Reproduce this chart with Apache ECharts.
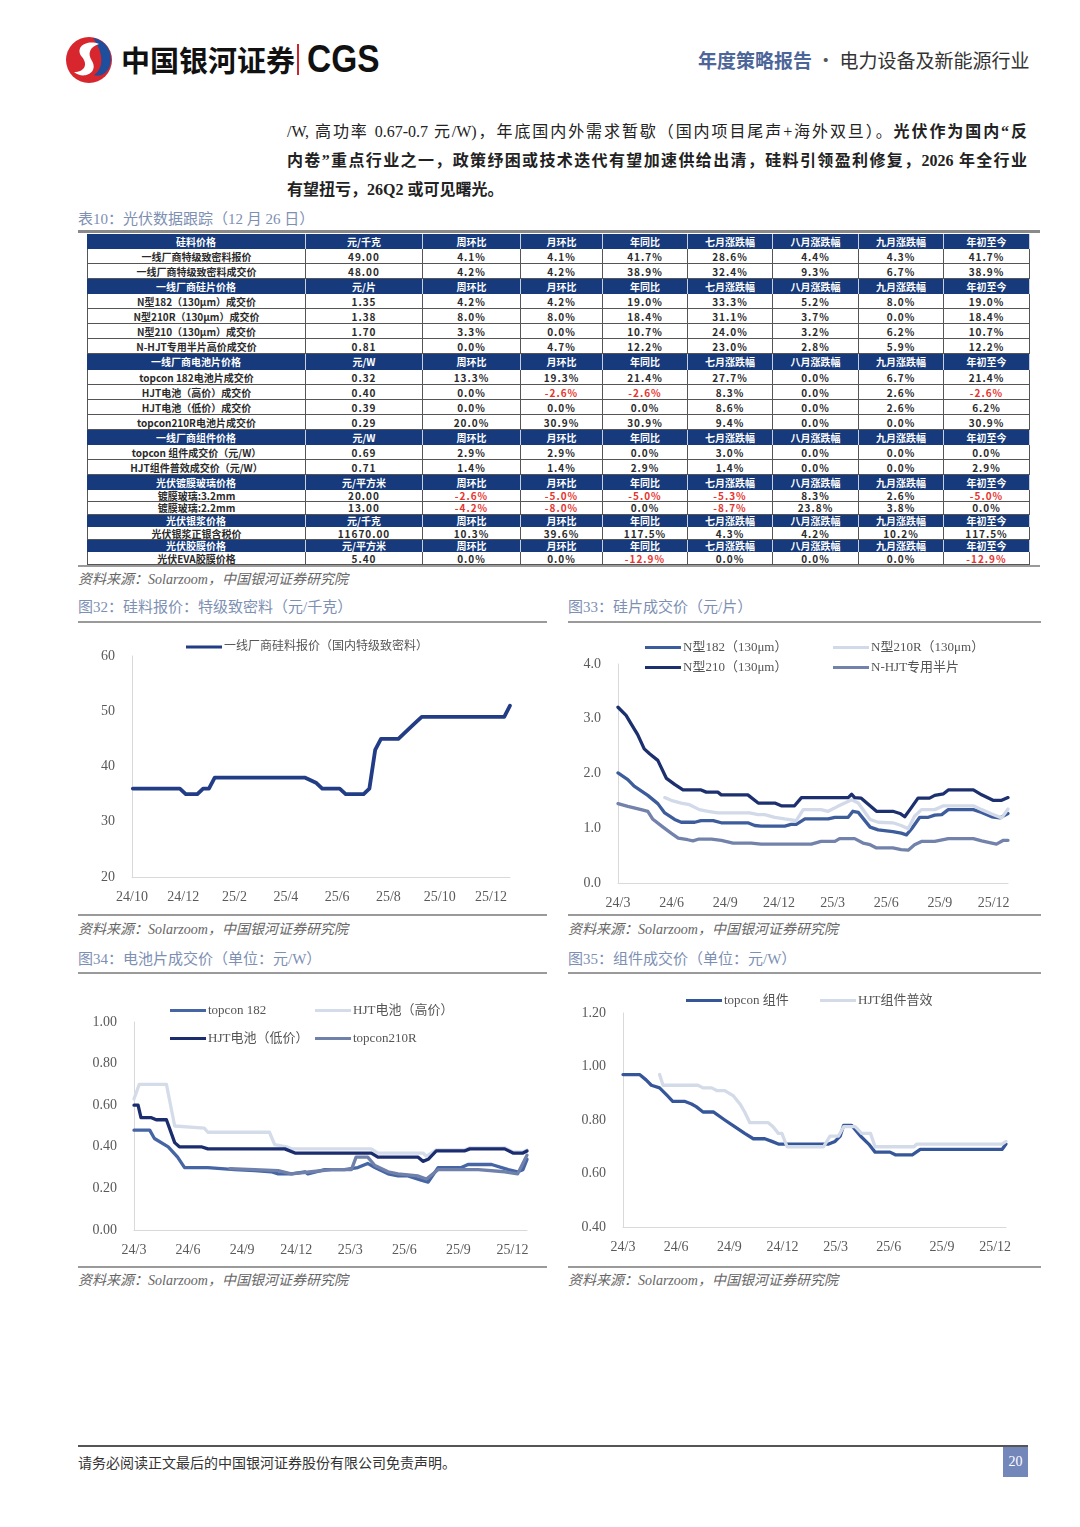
<!DOCTYPE html>
<html><head><meta charset="utf-8">
<script src="https://cdn.jsdelivr.net/npm/echarts@6/dist/echarts.min.js"></script>
<style>
body{margin:0;background:#fff;}
#page{position:relative;width:1080px;height:1527px;overflow:hidden;background:#fff;font-family:'Liberation Serif','Noto Sans CJK SC',serif;color:#222;}
.abs{position:absolute;white-space:nowrap;}
.hl{position:absolute;background:#9a9a9a;height:2px;}
.ttl{position:absolute;font-size:15px;color:#7d8fb3;line-height:20px;white-space:nowrap;}
.src{position:absolute;font-size:14px;color:#666;font-style:italic;line-height:20px;white-space:nowrap;}
.body{position:absolute;left:287px;width:740px;font-size:16px;line-height:24px;height:24px;white-space:nowrap;}
.just{text-align:justify;text-align-last:justify;}
.cell{position:absolute;box-sizing:border-box;text-align:center;font-family:'Noto Sans CJK SC',sans-serif;font-size:10px;font-weight:bold;overflow:hidden;white-space:nowrap;}
.chart{position:absolute;}
</style></head><body><div id="page">

<svg class="abs" style="left:63px;top:35px" width="52" height="50" viewBox="0 0 52 50">
  <circle cx="26" cy="25" r="23" fill="#d7262e"/>
  <path d="M30 3 C44 5 52 20 46 33 C42 40 36 42 31 40 C40 34 42 20 30 3 Z" fill="#1f4e9c"/>
  <path d="M36 9 C24 4 11 12 19 22 C25 29 22 37 11 37 C20 45 36 38 29 26 C24 18 27 12 36 9 Z" fill="#fff"/>
</svg>
<div class="abs" style="left:121px;top:40px;font-size:29px;font-weight:bold;line-height:38px;color:#111;font-family:'Noto Sans CJK SC',sans-serif;">中国银河证券</div>
<div class="abs" style="left:297px;top:44px;width:2px;height:31px;background:#c9252c;"></div>
<div class="abs" style="left:307px;top:37px;font-size:38px;font-weight:bold;line-height:44px;color:#111;font-family:'Liberation Sans',sans-serif;transform:scaleX(0.88);transform-origin:left center;">CGS</div>
<div class="abs" style="left:698px;top:48px;font-size:19px;line-height:24px;font-weight:bold;color:#4d6699;font-family:'Noto Sans CJK SC',sans-serif;">年度策略报告<span style="font-weight:normal;color:#555;"> · </span><span style="font-weight:normal;color:#333;">电力设备及新能源行业</span></div>

<div class="body just" style="top:120px;">/W, 高功率 0.67-0.7 元/W)，年底国内外需求暂歇（国内项目尾声+海外双旦）。<b>光伏作为国内“反</b></div>
<div class="body just" style="top:149px;font-weight:bold;">内卷”重点行业之一，政策纾困或技术迭代有望加速供给出清，硅料引领盈利修复，2026 年全行业</div>
<div class="body" style="top:178px;font-weight:bold;">有望扭亏，26Q2 或可见曙光。</div>

<div class="ttl" style="left:78px;top:209px;">表10：光伏数据跟踪（12 月 26 日）</div>
<div class="abs" style="left:78px;top:230px;width:962px;height:3px;background:#8a8a8a;"></div>
<div id="tbl"></div>
<div class="abs" style="left:78px;top:565px;width:962px;height:2px;background:#9a9a9a;"></div>
<div class="src" style="left:78px;top:570px;">资料来源：Solarzoom，中国银河证券研究院</div>

<div class="ttl" style="left:78px;top:597px;">图32：硅料报价：特级致密料（元/千克）</div>
<div class="hl" style="left:78px;top:621px;width:469px;"></div>
<div class="ttl" style="left:568px;top:597px;">图33：硅片成交价（元/片）</div>
<div class="hl" style="left:568px;top:621px;width:473px;"></div>
<div id="c32" class="chart" style="left:78px;top:625px;width:470px;height:290px;"></div>
<div id="c33" class="chart" style="left:568px;top:625px;width:475px;height:290px;"></div>
<div class="hl" style="left:78px;top:914px;width:469px;"></div>
<div class="hl" style="left:568px;top:914px;width:473px;"></div>
<div class="src" style="left:78px;top:920px;">资料来源：Solarzoom，中国银河证券研究院</div>
<div class="src" style="left:568px;top:920px;">资料来源：Solarzoom，中国银河证券研究院</div>

<div class="ttl" style="left:78px;top:949px;">图34：电池片成交价（单位：元/W）</div>
<div class="hl" style="left:78px;top:972px;width:469px;"></div>
<div class="ttl" style="left:568px;top:949px;">图35：组件成交价（单位：元/W）</div>
<div class="hl" style="left:568px;top:972px;width:473px;"></div>
<div id="c34" class="chart" style="left:78px;top:975px;width:470px;height:292px;"></div>
<div id="c35" class="chart" style="left:568px;top:975px;width:475px;height:292px;"></div>
<div class="hl" style="left:78px;top:1266px;width:469px;"></div>
<div class="hl" style="left:568px;top:1266px;width:473px;"></div>
<div class="src" style="left:78px;top:1271px;">资料来源：Solarzoom，中国银河证券研究院</div>
<div class="src" style="left:568px;top:1271px;">资料来源：Solarzoom，中国银河证券研究院</div>

<div class="abs" style="left:78px;top:1445px;width:950px;height:1.5px;background:#555;"></div>
<div class="abs" style="left:78px;top:1452px;font-size:14px;line-height:20px;color:#333;font-family:'Noto Sans CJK SC',sans-serif;">请务必阅读正文最后的中国银河证券股份有限公司免责声明。</div>
<div class="abs" style="left:1003px;top:1447px;width:25px;height:30px;background:#7487bb;color:#fff;font-size:14px;line-height:30px;text-align:center;">20</div>
</div>
<script>
// ---------- table data ----------
const tableCols = ['周环比','月环比','年同比','七月涨跌幅','八月涨跌幅','九月涨跌幅','年初至今'];
const secSilicon = {head:['硅料价格','元/千克'], rows:[
  ['一线厂商特级致密料报价','49.00','4.1%','4.1%','41.7%','28.6%','4.4%','4.3%','41.7%'],
  ['一线厂商特级致密料成交价','48.00','4.2%','4.2%','38.9%','32.4%','9.3%','6.7%','38.9%']]};
const secWafer = {head:['一线厂商硅片价格','元/片'], rows:[
  ['N型182（130μm）成交价','1.35','4.2%','4.2%','19.0%','33.3%','5.2%','8.0%','19.0%'],
  ['N型210R（130μm）成交价','1.38','8.0%','8.0%','18.4%','31.1%','3.7%','0.0%','18.4%'],
  ['N型210（130μm）成交价','1.70','3.3%','0.0%','10.7%','24.0%','3.2%','6.2%','10.7%'],
  ['N-HJT专用半片高价成交价','0.81','0.0%','4.7%','12.2%','23.0%','2.8%','5.9%','12.2%']]};
const secCell = {head:['一线厂商电池片价格','元/W'], rows:[
  ['topcon 182电池片成交价','0.32','13.3%','19.3%','21.4%','27.7%','0.0%','6.7%','21.4%'],
  ['HJT电池（高价）成交价','0.40','0.0%','-2.6%','-2.6%','8.3%','0.0%','2.6%','-2.6%'],
  ['HJT电池（低价）成交价','0.39','0.0%','0.0%','0.0%','8.6%','0.0%','2.6%','6.2%'],
  ['topcon210R电池片成交价','0.29','20.0%','30.9%','30.9%','9.4%','0.0%','0.0%','30.9%']]};
const secModule = {head:['一线厂商组件价格','元/W'], rows:[
  ['topcon 组件成交价（元/W）','0.69','2.9%','2.9%','0.0%','3.0%','0.0%','0.0%','0.0%'],
  ['HJT组件普效成交价（元/W）','0.71','1.4%','1.4%','2.9%','1.4%','0.0%','0.0%','2.9%']]};
const secGlass = {head:['光伏镀膜玻璃价格','元/平方米'], rows:[
  ['镀膜玻璃:3.2mm','20.00','-2.6%','-5.0%','-5.0%','-5.3%','8.3%','2.6%','-5.0%'],
  ['镀膜玻璃:2.2mm','13.00','-4.2%','-8.0%','0.0%','-8.7%','23.8%','3.8%','0.0%']]};
const secSilver = {head:['光伏银浆价格','元/千克'], rows:[
  ['光伏银浆正银含税价','11670.00','10.3%','39.6%','117.5%','4.3%','4.2%','10.2%','117.5%']]};
const secEva = {head:['光伏胶膜价格','元/平方米'], rows:[
  ['光伏EVA胶膜价格','5.40','0.0%','0.0%','-12.9%','0.0%','0.0%','0.0%','-12.9%']]};
const sections = [secSilicon, secWafer, secCell, secModule, secGlass, secSilver, secEva];

// ---------- chart data ([date, value]) ----------
const siliconQuote = [['2024-10-02',36],['2024-11-27',36],['2024-12-04',35],['2024-12-18',35],['2024-12-25',36],['2025-01-01',36],['2025-01-08',38],['2025-04-23',38],['2025-04-30',37.5],['2025-05-07',37],['2025-05-14',36],['2025-06-04',36],['2025-06-11',35],['2025-07-02',35],['2025-07-09',36],['2025-07-16',43],['2025-07-23',45],['2025-08-13',45],['2025-08-20',46],['2025-08-27',47],['2025-09-03',48],['2025-09-10',49],['2025-12-17',49],['2025-12-24',51]];

const waferN182 = [['2024-03-01',2.01],['2024-03-18',1.89],['2024-03-29',1.77],['2024-04-21',1.60],['2024-05-08',1.45],['2024-05-20',1.28],['2024-06-06',1.16],['2024-06-17',1.11],['2024-07-10',1.11],['2024-07-21',1.14],['2024-08-11',1.14],['2024-08-25',1.10],['2024-10-09',1.10],['2024-10-21',1.05],['2024-11-01',1.04],['2024-12-11',1.04],['2024-12-22',1.07],['2024-12-31',1.07],['2025-01-15',1.17],['2025-02-22',1.17],['2025-03-05',1.20],['2025-03-28',1.20],['2025-04-05',1.31],['2025-04-14',1.29],['2025-05-04',1.02],['2025-05-18',0.97],['2025-06-12',0.94],['2025-06-26',0.91],['2025-07-05',0.88],['2025-07-14',0.99],['2025-07-28',1.20],['2025-08-12',1.20],['2025-08-23',1.24],['2025-09-04',1.25],['2025-09-15',1.34],['2025-10-28',1.34],['2025-11-11',1.29],['2025-11-28',1.21],['2025-12-12',1.19],['2025-12-26',1.27]];
const waferN210R = [['2024-05-20',1.56],['2024-05-31',1.51],['2024-06-17',1.46],['2024-07-01',1.43],['2024-07-18',1.34],['2024-08-02',1.31],['2024-08-19',1.28],['2024-10-12',1.28],['2024-10-27',1.25],['2024-11-07',1.25],['2024-11-24',1.20],['2024-12-11',1.17],['2024-12-31',1.14],['2025-01-12',1.34],['2025-02-11',1.34],['2025-02-22',1.31],['2025-03-10',1.40],['2025-04-03',1.52],['2025-04-14',1.46],['2025-05-04',1.16],['2025-05-18',1.11],['2025-06-12',1.10],['2025-06-26',1.05],['2025-07-08',0.99],['2025-07-19',1.22],['2025-07-31',1.34],['2025-08-23',1.34],['2025-09-07',1.41],['2025-10-28',1.41],['2025-11-11',1.34],['2025-11-30',1.25],['2025-12-15',1.19],['2025-12-26',1.35]];
const waferN210 = [['2024-03-01',3.21],['2024-03-15',3.06],['2024-03-23',2.92],['2024-04-04',2.71],['2024-04-15',2.45],['2024-04-24',2.36],['2024-05-08',2.24],['2024-05-23',1.91],['2024-06-06',1.80],['2024-06-20',1.70],['2024-07-21',1.70],['2024-07-30',1.66],['2024-08-19',1.66],['2024-08-25',1.61],['2024-10-09',1.61],['2024-10-27',1.46],['2024-11-24',1.46],['2024-12-05',1.41],['2024-12-28',1.41],['2025-01-09',1.56],['2025-03-28',1.56],['2025-04-03',1.62],['2025-04-08',1.56],['2025-04-19',1.55],['2025-05-15',1.31],['2025-06-12',1.31],['2025-06-24',1.27],['2025-07-02',1.21],['2025-07-11',1.34],['2025-07-25',1.55],['2025-08-14',1.55],['2025-08-23',1.60],['2025-09-07',1.63],['2025-09-15',1.70],['2025-10-28',1.70],['2025-11-11',1.61],['2025-11-30',1.51],['2025-12-15',1.51],['2025-12-26',1.56]];
const waferHJT = [['2024-03-01',1.45],['2024-03-18',1.40],['2024-04-10',1.34],['2024-04-21',1.31],['2024-04-29',1.17],['2024-05-17',1.02],['2024-05-31',0.91],['2024-06-12',0.82],['2024-06-28',0.79],['2024-07-07',0.77],['2024-07-16',0.80],['2024-08-08',0.80],['2024-08-25',0.78],['2024-09-14',0.73],['2024-10-15',0.73],['2024-11-01',0.71],['2025-01-26',0.71],['2025-02-11',0.76],['2025-03-05',0.76],['2025-03-13',0.81],['2025-04-08',0.81],['2025-04-22',0.73],['2025-05-04',0.70],['2025-05-15',0.64],['2025-06-12',0.64],['2025-06-26',0.61],['2025-07-08',0.60],['2025-07-19',0.70],['2025-07-31',0.76],['2025-08-23',0.76],['2025-09-15',0.81],['2025-10-28',0.81],['2025-11-11',0.77],['2025-12-06',0.71],['2025-12-18',0.78],['2025-12-26',0.78]];

const cellTopcon182 = [['2024-03-01',0.48],['2024-03-28',0.48],['2024-04-05',0.44],['2024-04-28',0.40],['2024-05-14',0.35],['2024-05-26',0.30],['2024-07-04',0.30],['2024-08-19',0.29],['2024-09-22',0.285],['2024-10-20',0.28],['2024-11-01',0.27],['2024-11-23',0.27],['2024-12-16',0.28],['2024-12-21',0.27],['2025-01-19',0.29],['2025-02-20',0.29],['2025-03-14',0.30],['2025-03-31',0.32],['2025-04-12',0.30],['2025-05-04',0.27],['2025-05-21',0.26],['2025-06-07',0.26],['2025-06-29',0.24],['2025-07-11',0.23],['2025-07-28',0.30],['2025-09-06',0.30],['2025-09-17',0.315],['2025-10-27',0.315],['2025-11-24',0.29],['2025-12-10',0.28],['2025-12-19',0.29],['2025-12-26',0.34]];
const cellHJTHigh = [['2024-03-01',0.63],['2024-03-10',0.70],['2024-04-25',0.70],['2024-05-09',0.50],['2024-06-28',0.49],['2024-07-04',0.47],['2024-10-17',0.47],['2024-10-26',0.41],['2024-11-15',0.40],['2024-11-23',0.39],['2025-04-06',0.39],['2025-04-17',0.37],['2025-07-02',0.37],['2025-07-08',0.355],['2025-07-25',0.385],['2025-09-11',0.385],['2025-09-20',0.395],['2025-11-18',0.395],['2025-12-02',0.375],['2025-12-19',0.375],['2025-12-26',0.385]];
const cellHJTLow = [['2024-03-01',0.60],['2024-03-08',0.60],['2024-03-13',0.54],['2024-03-31',0.54],['2024-04-08',0.53],['2024-04-25',0.53],['2024-05-09',0.42],['2024-05-17',0.40],['2024-06-23',0.40],['2024-07-04',0.39],['2024-11-12',0.39],['2024-11-29',0.37],['2025-04-06',0.37],['2025-04-17',0.35],['2025-06-24',0.35],['2025-07-02',0.33],['2025-07-11',0.34],['2025-07-25',0.38],['2025-09-11',0.38],['2025-09-20',0.39],['2025-11-18',0.39],['2025-12-02',0.37],['2025-12-19',0.37],['2025-12-26',0.38]];
const cellTopcon210R = [['2024-08-11',0.295],['2024-09-22',0.29],['2024-11-01',0.285],['2024-11-23',0.27],['2024-12-27',0.28],['2025-01-31',0.29],['2025-03-03',0.29],['2025-03-11',0.35],['2025-03-31',0.35],['2025-04-12',0.31],['2025-05-04',0.28],['2025-05-21',0.27],['2025-06-24',0.26],['2025-07-08',0.245],['2025-07-28',0.29],['2025-10-04',0.29],['2025-11-18',0.28],['2025-12-10',0.27],['2025-12-26',0.36]];

const modTopcon = [['2024-03-01',0.97],['2024-03-30',0.97],['2024-04-10',0.95],['2024-04-19',0.93],['2024-05-03',0.92],['2024-05-17',0.89],['2024-05-26',0.87],['2024-06-15',0.87],['2024-06-27',0.86],['2024-07-05',0.85],['2024-07-17',0.83],['2024-08-04',0.83],['2024-08-24',0.80],['2024-09-10',0.775],['2024-09-27',0.75],['2024-10-12',0.73],['2024-11-01',0.73],['2024-11-13',0.72],['2024-11-24',0.71],['2025-02-18',0.71],['2025-02-28',0.72],['2025-03-09',0.74],['2025-03-15',0.78],['2025-03-29',0.78],['2025-04-13',0.74],['2025-04-27',0.71],['2025-05-08',0.68],['2025-06-03',0.68],['2025-06-12',0.67],['2025-07-11',0.67],['2025-07-25',0.69],['2025-12-13',0.69],['2025-12-20',0.71]];
const modHJT = [['2024-05-03',0.97],['2024-05-09',0.93],['2024-07-08',0.93],['2024-07-17',0.92],['2024-08-01',0.92],['2024-08-10',0.91],['2024-08-24',0.91],['2024-09-08',0.89],['2024-09-19',0.86],['2024-09-27',0.83],['2024-10-06',0.79],['2024-11-07',0.79],['2024-11-15',0.775],['2024-11-24',0.75],['2024-11-30',0.75],['2024-12-09',0.70],['2025-02-10',0.70],['2025-02-20',0.74],['2025-03-06',0.74],['2025-03-15',0.775],['2025-04-04',0.775],['2025-04-15',0.75],['2025-04-30',0.75],['2025-05-08',0.70],['2025-07-14',0.70],['2025-07-19',0.71],['2025-12-13',0.71],['2025-12-20',0.72]];

// ---------- table build ----------
(function(){
  const colX = [87,306,423,521,603,688,773,859,944,1030];
  const rowH = [];
  sections.forEach((s,i)=>{
    const small = i>=4;
    const hh = i===4?15:(i>=5?12:15.06);
    rowH.push({h:hh,head:true,cells:[s.head[0],s.head[1]].concat(tableCols)});
    s.rows.forEach(r=>rowH.push({h:small?(i===4?12.5:13):15.06,head:false,cells:r}));
  });
  const host = document.getElementById('tbl');
  let y = 234;
  rowH.forEach(row=>{
    row.cells.forEach((txt,c)=>{
      const d = document.createElement('div');
      d.className='cell';
      const x0=colX[c], x1=colX[c+1];
      d.style.left=x0+'px'; d.style.top=y+'px'; d.style.width=(x1-x0)+'px'; d.style.height=row.h+'px';
      d.style.lineHeight=row.h+'px';
      if(row.head){
        d.style.background='#163a7b'; d.style.color='#fff';
        d.style.borderRight='1px solid #c8d0e0';
      } else {
        d.style.background='#fff';
        d.style.color = (c>=2 && txt.startsWith('-')) ? '#e8342f' : '#2a2a2a';
        d.style.borderRight='1px solid #555';
        d.style.borderBottom='1px solid #555';
        if(c===0) d.style.borderLeft='1px solid #555';
        if(c>=1) d.style.letterSpacing='1px';
      }
      d.textContent = txt;
      host.appendChild(d);
    });
    y += row.h;
  });
})();

// ---------- charts ----------
const SERIF = "'Liberation Serif','Noto Sans CJK SC',serif";
function mnum(s){const p=s.split('-').map(Number);const dim=new Date(p[0],p[1],0).getDate();return (p[0]-2024)*12+(p[1]-1)+(p[2]-1)/dim;}
function lineChart(id,o){
  const chart = echarts.init(document.getElementById(id));
  const off = o.xStart;
  let xmax = 0;
  const series = o.series.map(s=>{
    const d = s.data.map(p=>[mnum(p[0])-off,p[1]]);
    xmax = Math.max(xmax,d[d.length-1][0]);
    return {name:s.name,type:'line',data:d,showSymbol:false,symbol:'none',silent:true,
      lineStyle:{width:o.lw||3.3,color:s.color,cap:'round',join:'round'},itemStyle:{color:s.color}};
  });
  chart.setOption({
    animation:false,
    grid:{left:o.grid[0],top:o.grid[1],right:o.grid[2],bottom:o.grid[3],containLabel:false,outerBoundsMode:'none'},
    xAxis:{type:'value',min:0,max:xmax,interval:o.xStep,
      axisLine:{show:true,lineStyle:{color:'#d9d9d9',width:1}},axisTick:{show:false},splitLine:{show:false},
      axisLabel:{showMaxLabel:false,showMinLabel:true,margin:13,color:'#595959',fontSize:14,fontFamily:SERIF,
        formatter:v=>{if(Math.abs(v-Math.round(v))>1e-6)return '';const M=Math.round(v)+off;return (24+Math.floor(M/12))+'/'+(M%12+1);}}},
    yAxis:{type:'value',min:o.y[0],max:o.y[1],interval:o.y[2],
      axisLine:{show:true,lineStyle:{color:'#d9d9d9',width:1}},axisTick:{show:false},splitLine:{show:false},
      axisLabel:{margin:17,color:'#595959',fontSize:14,fontFamily:SERIF,formatter:v=>v.toFixed(o.y[3])}},
    legend:o.legend.map(l=>({data:[l.name],left:l.left,top:l.top,icon:'rect',itemWidth:36,itemHeight:3,padding:0,selectedMode:false,
      textStyle:{color:'#555',fontSize:l.fs||13,fontFamily:SERIF,padding:[0,0,0,-3]}})),
    series
  });
}

lineChart('c32',{xStart:9,xStep:2,y:[20,60,10,0],grid:[54,31,38,38],lw:3.8,
  series:[{name:'一线厂商硅料报价（国内特级致密料）',data:siliconQuote,color:'#223d85'}],
  legend:[{name:'一线厂商硅料报价（国内特级致密料）',left:108,top:16,fs:12}]});

lineChart('c33',{xStart:2,xStep:3,y:[0,4,1,1],grid:[50,39,35,32],
  series:[
    {name:'N型182（130μm）',data:waferN182,color:'#3d5c9c'},
    {name:'N型210R（130μm）',data:waferN210R,color:'#d2d9e8'},
    {name:'N型210（130μm）',data:waferN210,color:'#1c2f6e'},
    {name:'N-HJT专用半片',data:waferHJT,color:'#7282aa'}],
  legend:[
    {name:'N型182（130μm）',left:77,top:16},
    {name:'N型210R（130μm）',left:265,top:16},
    {name:'N型210（130μm）',left:77,top:36},
    {name:'N-HJT专用半片',left:265,top:36}]});

lineChart('c34',{xStart:2,xStep:3,y:[0,1,0.2,2],grid:[56,47,21,37],
  series:[
    {name:'topcon 182',data:cellTopcon182,color:'#4565a5'},
    {name:'HJT电池（高价）',data:cellHJTHigh,color:'#d5dce9'},
    {name:'HJT电池（低价）',data:cellHJTLow,color:'#1b2d6e'},
    {name:'topcon210R',data:cellTopcon210R,color:'#6f80aa'}],
  legend:[
    {name:'topcon 182',left:92,top:29},
    {name:'HJT电池（高价）',left:237,top:29},
    {name:'HJT电池（低价）',left:92,top:57},
    {name:'topcon210R',left:237,top:57}]});

lineChart('c35',{xStart:2,xStep:3,y:[0.4,1.2,0.2,2],grid:[55,38,37,40],
  series:[
    {name:'topcon 组件',data:modTopcon,color:'#36569a'},
    {name:'HJT组件普效',data:modHJT,color:'#d3dae8'}],
  legend:[
    {name:'topcon 组件',left:118,top:19},
    {name:'HJT组件普效',left:252,top:19}]});
</script>
</body></html>
